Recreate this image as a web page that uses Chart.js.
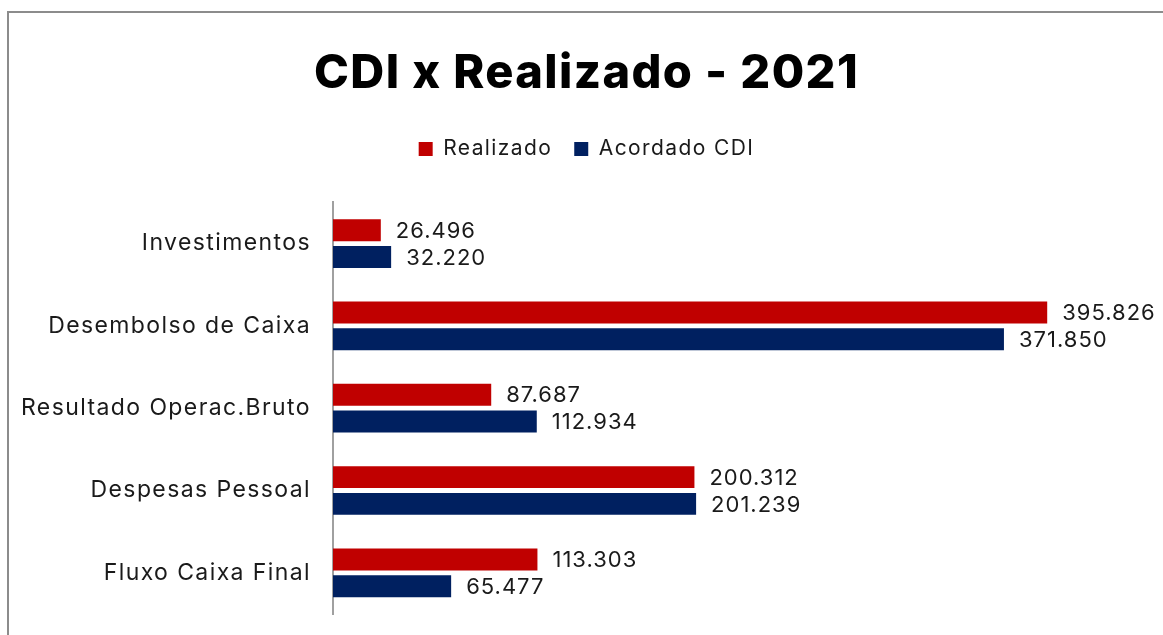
<!DOCTYPE html>
<html>
<head>
<meta charset="utf-8">
<script src="https://cdn.jsdelivr.net/npm/chart.js@4"></script>
<style>
  html, body { margin: 0; padding: 0; background: #ffffff; overflow: hidden; }
  #frame {
    position: absolute; left: 7px; top: 11px; width: 1170px; height: 640px;
    border-left: 2px solid #8c8c8c; border-top: 2px solid #8c8c8c;
    background: #ffffff;
  }
  #wrap { position: absolute; left: 10px; top: 0; width: 1153px; height: 635px; }
</style>
</head>
<body>
<div id="frame"></div>
<div id="wrap"><canvas id="myChart"></canvas></div>
<script>
var categories = ['Investimentos', 'Desembolso de Caixa', 'Resultado Operac.Bruto', 'Despesas Pessoal', 'Fluxo Caixa Final'];
var realizado = [26.496, 395.826, 87.687, 200.312, 113.303];
var acordadoCDI = [32.220, 371.850, 112.934, 201.239, 65.477];
var seriesNames = ['Realizado', 'Acordado CDI'];

// wider text, like the original
var spacing = {
    id: 'spacing',
    beforeLayout: function (chart) { chart.ctx.letterSpacing = '1.4px'; },
    beforeDraw: function (chart) { chart.ctx.letterSpacing = '1.4px'; }
};

// extra room under the legend
var legendGap = {
    id: 'legendGap',
    beforeInit: function (chart) {
        var fit = chart.legend.fit;
        chart.legend.fit = function () {
            fit.bind(chart.legend)();
            this.height += 33;
        };
    }
};

// draws the value next to the end of each bar
var valueLabels = {
    id: 'valueLabels',
    afterDatasetsDraw: function (chart) {
        var ctx = chart.ctx;
        ctx.save();
        ctx.letterSpacing = '1px';
        ctx.font = '22px Inter';
        ctx.fillStyle = '#1a1a1a';
        ctx.textBaseline = 'middle';
        chart.data.datasets.forEach(function (ds, i) {
            chart.getDatasetMeta(i).data.forEach(function (bar, j) {
                ctx.fillText(ds.data[j].toFixed(3), bar.x + 15, bar.y + 1);
            });
        });
        ctx.restore();
    }
};

var ctx = document.getElementById('myChart').getContext('2d');
var chart = new Chart(ctx, {
    type: 'bar',
    data: {
        labels: categories,
        datasets: [
            { label: seriesNames[0], data: realizado, backgroundColor: '#c00000' },
            { label: seriesNames[1], data: acordadoCDI, backgroundColor: '#002060' }
        ]
    },
    options: {
        indexAxis: 'y',
        responsive: true,
        maintainAspectRatio: false,
        animation: false,
        categoryPercentage: 0.65,
        barPercentage: 0.82,
        layout: { padding: { left: 0, right: 0, top: 0, bottom: 21 } },
        scales: {
            x: { display: false, min: 0, max: 460 },
            y: {
                grid: { display: false },
                border: { color: '#a0a0a0', width: 2 },
                ticks: { color: '#1a1a1a', font: { family: 'Inter', size: 23 }, padding: 14 },
                afterFit: function (scale) {
                    scale.width = 323;
                    scale.paddingTop = 0;
                    scale.paddingBottom = 0;
                }
            }
        },
        plugins: {
            title: {
                display: true,
                text: 'CDI x Realizado - 2021',
                color: '#000000',
                font: { family: 'Inter', size: 47, weight: '800' },
                padding: { top: 46, bottom: 14 }
            },
            legend: {
                labels: {
                    boxWidth: 14, boxHeight: 14,
                    color: '#1a1a1a',
                    font: { family: 'Inter', size: 21 },
                    padding: 22
                }
            },
            tooltip: { enabled: false }
        }
    },
    plugins: [spacing, legendGap, valueLabels]
});
</script>
</body>
</html>
